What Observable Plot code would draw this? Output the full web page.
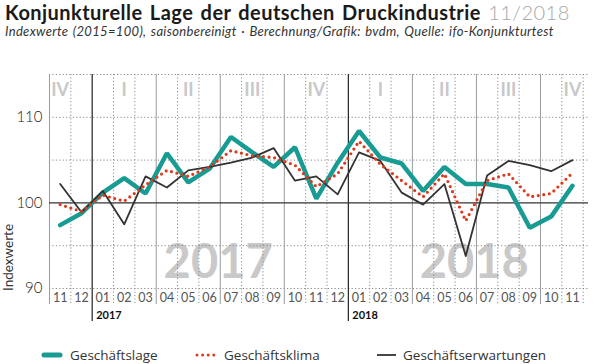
<!DOCTYPE html>
<html><head><meta charset="utf-8">
<script src="https://cdn.jsdelivr.net/npm/d3@7"></script>
<script src="https://cdn.jsdelivr.net/npm/@observablehq/plot@0.6"></script>
<style>
body{margin:0;width:600px;height:364px;overflow:hidden;background:#fff;font-family:"Open Sans",sans-serif;position:relative}
#title{position:absolute;left:5px;top:0px;font-family:Lato,sans-serif;font-size:20px;font-weight:700;color:#1a1a1a;white-space:nowrap;line-height:24px;letter-spacing:0.45px;word-spacing:2px}
#title span{font-weight:300;color:#a8a8a8}
#sub{position:absolute;left:5px;top:24px;font-family:Lato,sans-serif;font-size:13px;font-style:italic;color:#333;white-space:nowrap;line-height:15.6px;letter-spacing:0.32px;word-spacing:1.2px}
#chart{position:absolute;left:0;top:42px}
#legend{position:absolute;left:0;top:345px;width:600px;height:20px;font-size:13.5px;color:#333}
.item{position:absolute;top:0;height:20px;display:flex;align-items:center;white-space:nowrap}
.item svg{margin-right:7px}
</style></head>
<body>
<div id="title">Konjunkturelle Lage der deutschen Druckindustrie <span>11/2018</span></div>
<div id="sub">Indexwerte (2015=100), saisonbereinigt · Berechnung/Grafik: bvdm, Quelle: ifo-Konjunkturtest</div>
<div id="chart"></div>
<div id="legend"></div>
<script>
const months = ["11","12","01","02","03","04","05","06","07","08","09","10","11","12","01","02","03","04","05","06","07","08","09","10","11"];
const yearLabels = ["2017","2018"];
const romans = ["I","II","III","IV"];
const yTicks = [90,100,110];
const seriesNames = ["Geschäftslage","Geschäftsklima","Geschäftserwartungen"];
const lage   = [97.4,98.8,101.2,102.9,101.1,105.8,102.4,104.0,107.7,105.9,104.2,106.5,100.5,104.7,108.4,105.3,104.6,101.4,104.2,102.2,102.2,101.8,97.1,98.4,102.0];
const klima  = [99.8,99.0,100.9,100.2,102.1,103.8,103.1,104.2,106.1,105.5,105.3,104.4,101.9,103.4,107.2,104.5,102.6,100.7,103.4,97.9,102.6,103.4,100.7,101.1,103.5];
const erwart = [102.2,98.9,101.4,97.5,103.1,101.8,103.8,104.2,104.7,105.3,106.4,102.6,103.1,101.0,105.9,104.9,101.2,99.8,102.2,93.8,103.2,104.9,104.4,103.7,105.0];

const colors = ["#179b93","#dc3a1c","#333333"];
const idx = d3.range(months.length);
const yearStarts = idx.filter(i => months[i] === "01");
const yearLines = yearStarts.map(i => i - 0.5);
const quarterLines = idx.filter(i => ["04","07","10"].includes(months[i])).map(i => i - 0.5);
const monthLines = d3.range(-0.5, months.length, 1).filter(v => !yearLines.includes(v) && !quarterLines.includes(v) && v !== -0.5);
const quarterMarks = idx.filter(i => (+months[i]) % 3 === 2).map(i => ({x: i, t: romans[Math.floor((+months[i]-1)/3)]}));
const bigYears = yearStarts.map((s, k) => ({x: s + 5.4, t: yearLabels[k]}));
const smallYears = yearStarts.map((s, k) => ({x: s - 0.5, t: yearLabels[k]}));
const mk = v => idx.map(i => ({x: i, y: v[i]}));

const plot = Plot.plot({
  width: 600, height: 300,
  marginLeft: 49, marginRight: 12, marginTop: 32, marginBottom: 54,
  style: {fontFamily: "Lato, sans-serif", background: "transparent", overflow: "visible"},
  x: {type: "linear", domain: [-0.5, months.length - 0.25]},
  y: {domain: [90, 115]},
  marks: [
    Plot.text(bigYears, {x: "x", text: "t", frameAnchor: "bottom", dy: -26, lineAnchor: "middle", fontSize: 47, fontWeight: "bold", fill: "#c9c9c9"}),
    Plot.ruleY([90,95,105,110,115], {stroke: "#8a8a8a", strokeDasharray: "1.2 2.2", strokeWidth: 1}),
    Plot.ruleX(monthLines, {stroke: "#8a8a8a", strokeDasharray: "1.2 2.2", strokeWidth: 1, insetBottom: -16}),
    Plot.ruleX([-0.5, ...quarterLines], {stroke: "#9a9a9a", strokeWidth: 1, insetBottom: -16}),
    Plot.ruleX(yearLines, {stroke: "#222", strokeWidth: 1.2, insetBottom: -33}),
    Plot.ruleY([100], {stroke: "#333", strokeWidth: 1.2}),
    Plot.text(quarterMarks, {x: "x", text: "t", frameAnchor: "top", dy: 16, lineAnchor: "middle", fontSize: 18, fontWeight: "bold", fill: "#c8c8c8"}),
    Plot.line(mk(lage), {x: "x", y: "y", stroke: colors[0], strokeWidth: 4.5, strokeLinejoin: "miter"}),
    Plot.line(mk(erwart), {x: "x", y: "y", stroke: colors[2], strokeWidth: 1.8}),
    Plot.line(mk(klima), {x: "x", y: "y", stroke: colors[1], strokeWidth: 3.2, strokeDasharray: "0 5.6", strokeLinecap: "round"}),
    Plot.axisX({ticks: idx, tickFormat: i => months[i], tickSize: 0, tickPadding: 5, fontSize: 12.5, color: "#555", label: null}),
    Plot.axisY({ticks: yTicks, tickSize: 0, tickPadding: 7, fontSize: 15, color: "#222", fontWeight: 300, label: null}),
    Plot.text(smallYears, {x: "x", text: "t", frameAnchor: "bottom", dy: 27, dx: 4, textAnchor: "start", lineAnchor: "middle", fontSize: 11, fontWeight: "bold", fill: "#111"}),
    Plot.text(["Indexwerte"], {frameAnchor: "left", dx: -41, dy: 76, rotate: -90, textAnchor: "middle", lineAnchor: "middle", fontSize: 13.5, fill: "#333"})
  ]
});
document.getElementById("chart").appendChild(plot);

const legend = document.getElementById("legend");
const items = [
  {left: 41, sw: `<svg width="22" height="8"><line x1="3" x2="19" y1="4" y2="4" stroke="${colors[0]}" stroke-width="5" stroke-linecap="round"/></svg>`},
  {left: 195, sw: `<svg width="22" height="8"><line x1="2" x2="20" y1="4" y2="4" stroke="${colors[1]}" stroke-width="3" stroke-dasharray="0 5.6" stroke-linecap="round"/></svg>`},
  {left: 376, sw: `<svg width="20" height="8"><line x1="1" x2="20" y1="4" y2="4" stroke="${colors[2]}" stroke-width="1.8"/></svg>`}
];
items.forEach((it, k) => {
  const d = document.createElement("div");
  d.className = "item";
  d.style.left = it.left + "px";
  d.innerHTML = it.sw + `<span>${seriesNames[k]}</span>`;
  legend.appendChild(d);
});
</script>
</body></html>
